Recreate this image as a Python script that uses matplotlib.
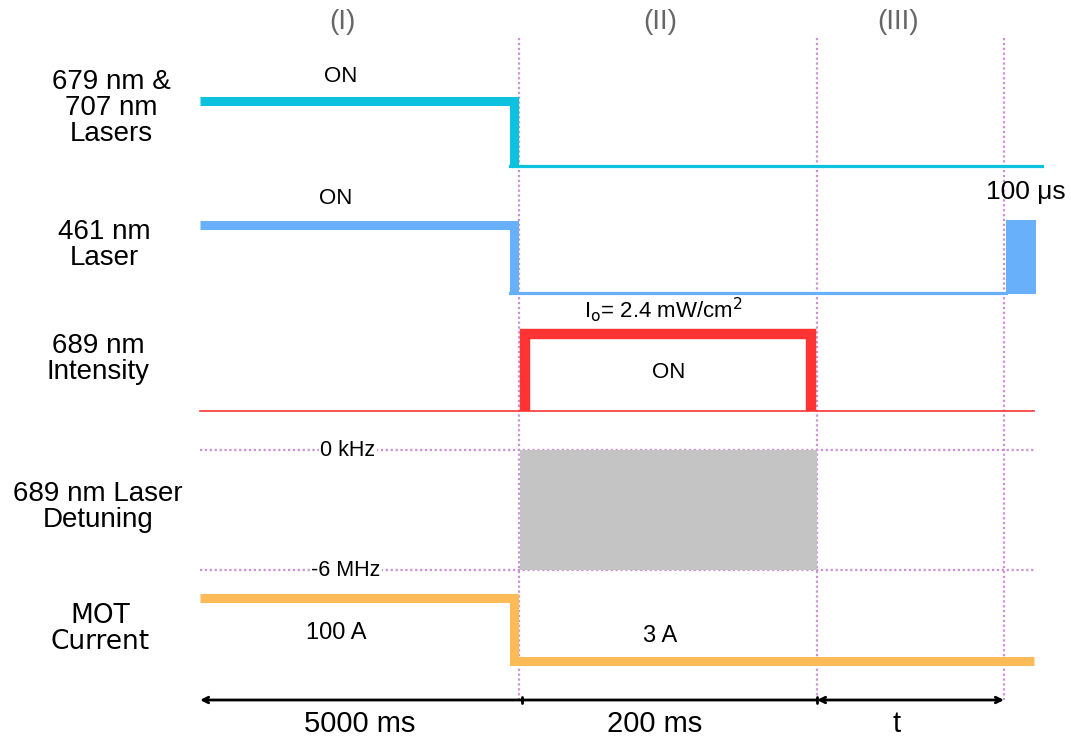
import matplotlib
matplotlib.use('Agg')
import matplotlib.pyplot as plt
import matplotlib.patches as mpatches

plt.rcParams['font.family'] = ['Liberation Sans', 'DejaVu Sans']

#####################################################################
# schematic time axis (drawing units) and channel levels
t_start = 200
t_phase = [519, 817, 1004]          # ends of phase I, II, III
t_stop = 1034
phase_labels = ['(I)', '(II)', '(III)']
phase_durations = ['5000 ms', '200 ms', 't']

row_names = ['679 nm &\n707 nm\nLasers', '461 nm\nLaser', '689 nm\nIntensity',
             '689 nm Laser\nDetuning', 'MOT\nCurrent']
row_x = [111, 104, 98, 98, 100]
row_y = [108, 245, 359, 507, 629]

# (high level, low level) of each channel, in drawing units (y down)
laser679_levels = [101, 166]
laser461_levels = [225, 293]
intensity_levels = [334, 411]
detuning_levels = [450, 570]
mot_levels = [598, 661]

pulse_width = 30    # 100 us imaging pulse (not to scale)

c_cyan = '#0cc2df'
c_blue = '#68b0fa'
c_red = '#fe3333'
c_orange = '#fdbb58'
c_grid = '#cc8fd8'

fig = plt.figure(figsize=(10.71, 7.43), dpi=100)
ax = fig.add_axes([0, 0, 1, 1])
ax.set_xlim(0, 1071)
ax.set_ylim(743, 0)
ax.axis('off')

#####################################################################
# phase boundaries and detuning limits
for x in t_phase:
    ax.plot([x, x], [38, 700], color=c_grid, lw=1.6, ls=(0, (1, 1.2)), zorder=1)
for y in detuning_levels:
    ax.plot([t_start, t_stop], [y, y], color=c_grid, lw=1.6, ls=(0, (1, 1.2)), zorder=1)

# phase labels
mids = [(t_start + t_phase[0]) / 2 - 17, (t_phase[0] + t_phase[1]) / 2 - 8, (t_phase[1] + t_phase[2]) / 2 - 12]
for m, lab in zip(mids, phase_labels):
    ax.text(m, 22, lab, fontsize=20, color='#666666', ha='center', va='center')

# row names
for x, y, name in zip(row_x, row_y, row_names):
    if name.startswith('MOT'):
        ax.text(x, y, name, fontsize=19, ha='center', va='center', linespacing=1.0,
                family=['DejaVu Sans'])
    else:
        ax.text(x, y, name, fontsize=20, ha='center', va='center', linespacing=1.0)

#####################################################################
# 679/707 lasers
t_off = t_phase[0] - 5
ax.plot([t_start, t_off, t_off], [laser679_levels[0], laser679_levels[0], laser679_levels[1]],
        color=c_cyan, lw=6.5, solid_capstyle='butt', solid_joinstyle='miter', zorder=3)
ax.plot([t_off - 4, 1042], [laser679_levels[1], laser679_levels[1]], color=c_cyan, lw=2.3, zorder=3)
ax.text((t_start + t_phase[0]) / 2 - 19, 77, 'ON', fontsize=16, ha='center', va='center')

# 461 laser
ax.plot([t_start, t_off, t_off], [laser461_levels[0], laser461_levels[0], laser461_levels[1]],
        color=c_blue, lw=6.5, solid_capstyle='butt', solid_joinstyle='miter', zorder=3)
ax.plot([t_off - 4, t_phase[2] + 2], [laser461_levels[1], laser461_levels[1]], color=c_blue, lw=2.3, zorder=3)
ax.add_patch(mpatches.Rectangle((t_phase[2] + 2, 220), pulse_width, laser461_levels[1] - 220 + 1,
                                color=c_blue, lw=0, zorder=3))
ax.text((t_start + t_phase[0]) / 2 - 24, 198, 'ON', fontsize=16, ha='center', va='center')
ax.text(1026, 192, '100 μs', fontsize=19, ha='center', va='center')

# 689 intensity
ax.plot([t_start, t_stop], [intensity_levels[1], intensity_levels[1]], color=c_red, lw=1.2, zorder=3)
ax.plot([t_phase[0] + 6, t_phase[0] + 6, t_phase[1] - 6, t_phase[1] - 6],
        [intensity_levels[1], intensity_levels[0], intensity_levels[0], intensity_levels[1]],
        color=c_red, lw=7.5, solid_capstyle='butt', solid_joinstyle='miter', zorder=3)
ax.text(669, 373, 'ON', fontsize=16, ha='center', va='center')
ax.text(663, 310, r'I$_\mathrm{o}$= 2.4 mW/cm$^\mathrm{2}$', fontsize=16, ha='center', va='center')

# 689 detuning sweep
ax.add_patch(mpatches.Rectangle((t_phase[0] + 1, detuning_levels[0]), t_phase[1] - t_phase[0] - 1,
                                detuning_levels[1] - detuning_levels[0], color='#c4c4c4', lw=0, zorder=2))
ax.text(348, 451, '0 kHz', fontsize=15.5, ha='center', va='center',
        bbox=dict(facecolor='white', edgecolor='none', pad=1))
ax.text(346, 570, '-6 MHz', fontsize=15.5, ha='center', va='center',
        bbox=dict(facecolor='white', edgecolor='none', pad=1))

# MOT current
ax.plot([t_start, t_off, t_off, t_stop], [mot_levels[0], mot_levels[0], mot_levels[1], mot_levels[1]],
        color=c_orange, lw=6.5, solid_capstyle='butt', solid_joinstyle='miter', zorder=3)
ax.text(336, 633, '100 A', fontsize=17, ha='center', va='center')
ax.text(660, 636, '3 A', fontsize=17, ha='center', va='center')

#####################################################################
# durations
ya = 700
ax.annotate('', xy=(t_start, ya), xytext=(t_phase[0] + 3, ya),
            arrowprops=dict(arrowstyle='->', lw=2, color='black', shrinkA=0, shrinkB=0))
ax.annotate('', xy=(t_phase[0] + 3, ya), xytext=(t_phase[1], ya),
            arrowprops=dict(arrowstyle='|-|,widthA=0.25,widthB=0.25', lw=2, color='black', shrinkA=0, shrinkB=0))
ax.annotate('', xy=(t_phase[1], ya), xytext=(t_phase[2], ya),
            arrowprops=dict(arrowstyle='<->', lw=2, color='black', shrinkA=0, shrinkB=0))
dur_x = [360, 655, 897]
for x, lab in zip(dur_x, phase_durations):
    ax.text(x, 724, lab, fontsize=21, ha='center', va='center')

fig.savefig('out.png', dpi=100, facecolor='white')
